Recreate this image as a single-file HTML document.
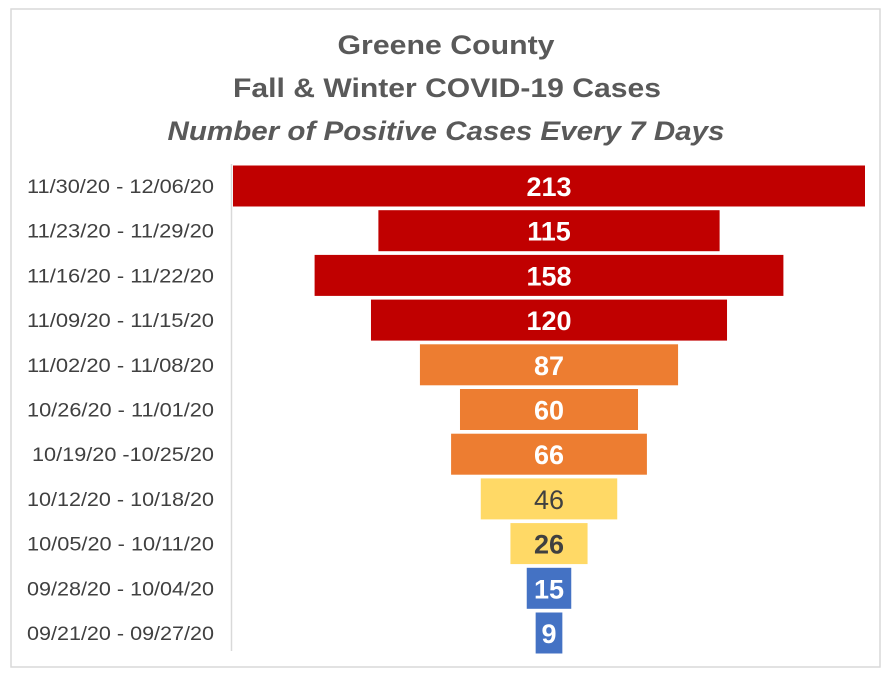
<!DOCTYPE html>
<html><head><meta charset="utf-8"><style>
html,body{margin:0;padding:0;background:#fff;}
svg{display:block;font-family:"Liberation Sans",sans-serif;}
</style></head><body>
<svg id="chart" width="892" height="677">
<rect x="11" y="9" width="869" height="658" fill="#fff" stroke="#d9d9d9" stroke-width="1.5"/>
<text x="446" y="54" text-anchor="middle" font-size="27" font-weight="bold" fill="#595959" textLength="217" lengthAdjust="spacingAndGlyphs">Greene County</text>
<text x="447" y="97" text-anchor="middle" font-size="27" font-weight="bold" fill="#595959" textLength="428" lengthAdjust="spacingAndGlyphs">Fall &amp; Winter COVID-19 Cases</text>
<text x="446" y="140" text-anchor="middle" font-size="27" font-weight="bold" font-style="italic" fill="#595959" textLength="557" lengthAdjust="spacingAndGlyphs">Number of Positive Cases Every 7 Days</text>
<line x1="231.5" y1="164" x2="231.5" y2="651" stroke="#d9d9d9" stroke-width="1.5"/>
<g id="bars"></g>
</svg>
<script>
const categories=["11/30/20 - 12/06/20","11/23/20 - 11/29/20","11/16/20 - 11/22/20","11/09/20 - 11/15/20","11/02/20 - 11/08/20","10/26/20 - 11/01/20","10/19/20 -10/25/20","10/12/20 - 10/18/20","10/05/20 - 10/11/20","09/28/20 - 10/04/20","09/21/20 - 09/27/20"];
const values=[213,115,158,120,87,60,66,46,26,15,9];
const levels=["red","red","red","red","orange","orange","orange","yellow","yellow","blue","blue"];
const palette={red:"#C00000",orange:"#ED7D31",yellow:"#FFD966",blue:"#4472C4"};
const ns="http://www.w3.org/2000/svg";
const g=document.getElementById("bars");
const cx=549, maxV=213, maxW=632;
function xw(v){return v/maxV*maxW;}
function yc(i){return 186+i*44.7;}
const bh=41;
values.forEach((v,i)=>{
  const w=xw(v), y=yc(i);
  const r=document.createElementNS(ns,"rect");
  r.setAttribute("x",cx-w/2);r.setAttribute("y",y-bh/2);
  r.setAttribute("width",w);r.setAttribute("height",bh);
  r.setAttribute("fill",palette[levels[i]]);
  
  
  g.appendChild(r);
  const t=document.createElementNS(ns,"text");
  t.setAttribute("x",cx);t.setAttribute("y",y+10);
  t.setAttribute("text-anchor","middle");t.setAttribute("font-size","27");
  const lvl=levels[i];
  if(lvl==="yellow"){
    t.setAttribute("fill","#404040");
    t.setAttribute("font-weight", v===46?"normal":"bold");
  } else {t.setAttribute("fill","#fff");t.setAttribute("font-weight","bold");}
  t.textContent=v;
  
  
  g.appendChild(t);
  const c=document.createElementNS(ns,"text");
  c.setAttribute("x",214);c.setAttribute("y",y+7);
  c.setAttribute("text-anchor","end");c.setAttribute("font-size","19");
  c.setAttribute("fill","#404040");
  const len=categories[i].length===19?187:182;
  c.setAttribute("textLength",len);c.setAttribute("lengthAdjust","spacingAndGlyphs");
  c.textContent=categories[i];
  
  
  g.appendChild(c);
});
</script>
</body></html>
